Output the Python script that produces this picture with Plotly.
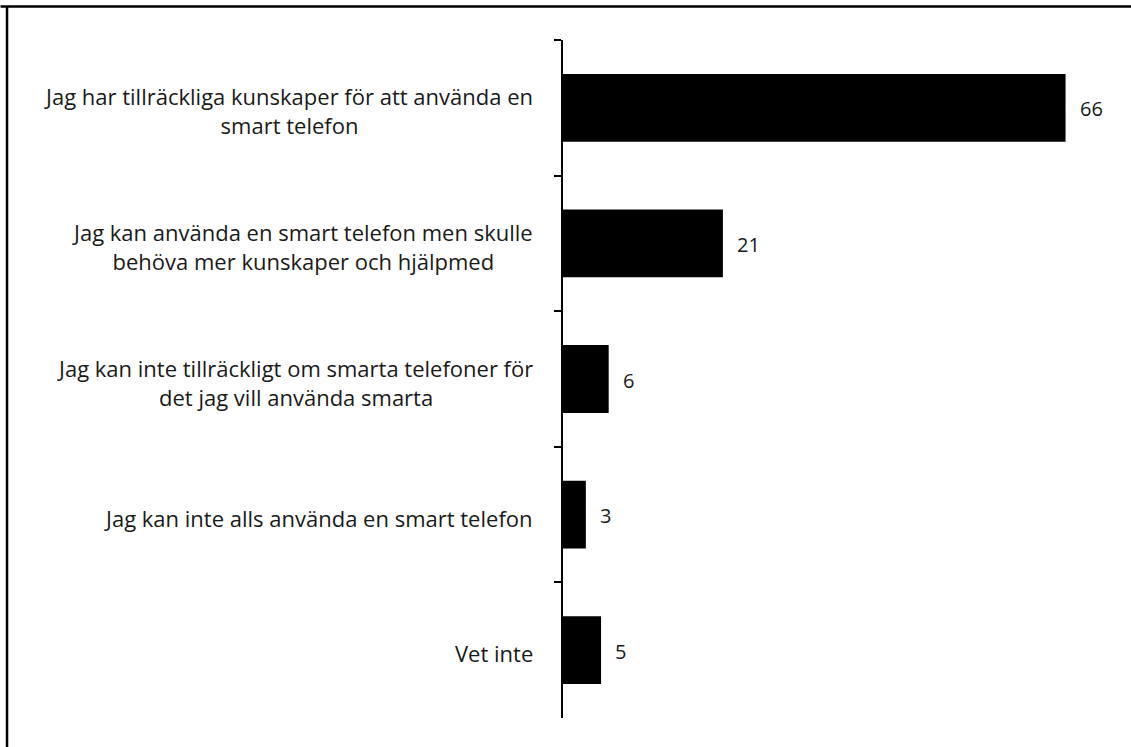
import plotly.graph_objects as go

categories = [
    "Jag har tillräckliga kunskaper för att använda en<br>smart telefon",
    "Jag kan använda en smart telefon men skulle<br>behöva mer kunskaper och hjälpmed",
    "Jag kan inte tillräckligt om smarta telefoner för<br>det jag vill använda smarta",
    "Jag kan inte alls använda en smart telefon",
    "Vet inte",
]
values = [66, 21, 6, 3, 5]

FONT = "Open Sans"

fig = go.Figure()
fig.add_trace(go.Bar(
    x=values,
    y=categories,
    orientation="h",
    width=0.5,
    marker=dict(color="black", line=dict(width=0)),
    hoverinfo="x+y",
))

# category labels, centred lines, right aligned against the axis
for cat in categories:
    fig.add_annotation(
        x=0, xref="paper", y=cat, yref="y",
        text=cat, showarrow=False,
        xanchor="right", align="center",
        xshift=-28, yshift=-3,
        font=dict(family=FONT, size=22, color="#1a1a1a"),
    )

# value labels
for cat, v in zip(categories, values):
    fig.add_annotation(
        x=v, y=cat, text=str(v), showarrow=False,
        xanchor="left", xshift=12, yshift=-1,
        font=dict(family=FONT, size=20, color="#1a1a1a"),
    )

# frame: top and left edges only
fig.add_shape(type="line", xref="paper", yref="paper", x0=-563/533.5, x1=1.2,
              y0=1 + 33.5/678, y1=1 + 33.5/678, line=dict(color="black", width=2.5))
fig.add_shape(type="line", xref="paper", yref="paper", x0=-556.5/533.5, x1=-556.5/533.5,
              y0=-0.1, y1=1 + 34/678, line=dict(color="black", width=2.5))

fig.update_layout(
    width=1131,
    height=747,
    margin=dict(l=563, r=34.5, t=40, b=29),
    paper_bgcolor="white",
    plot_bgcolor="white",
    showlegend=False,
    bargap=0.5,
    xaxis=dict(range=[0, 70], visible=False, fixedrange=True),
    yaxis=dict(
        autorange="reversed",
        showticklabels=False,
        showline=True, linecolor="black", linewidth=2,
        ticks="outside", tickson="boundaries", ticklen=7,
        tickwidth=2, tickcolor="black",
        showgrid=False, zeroline=False,
    ),
)

fig.write_html("out.html", config={"displayModeBar": False},
               post_script="document.body.style.margin='0';")
